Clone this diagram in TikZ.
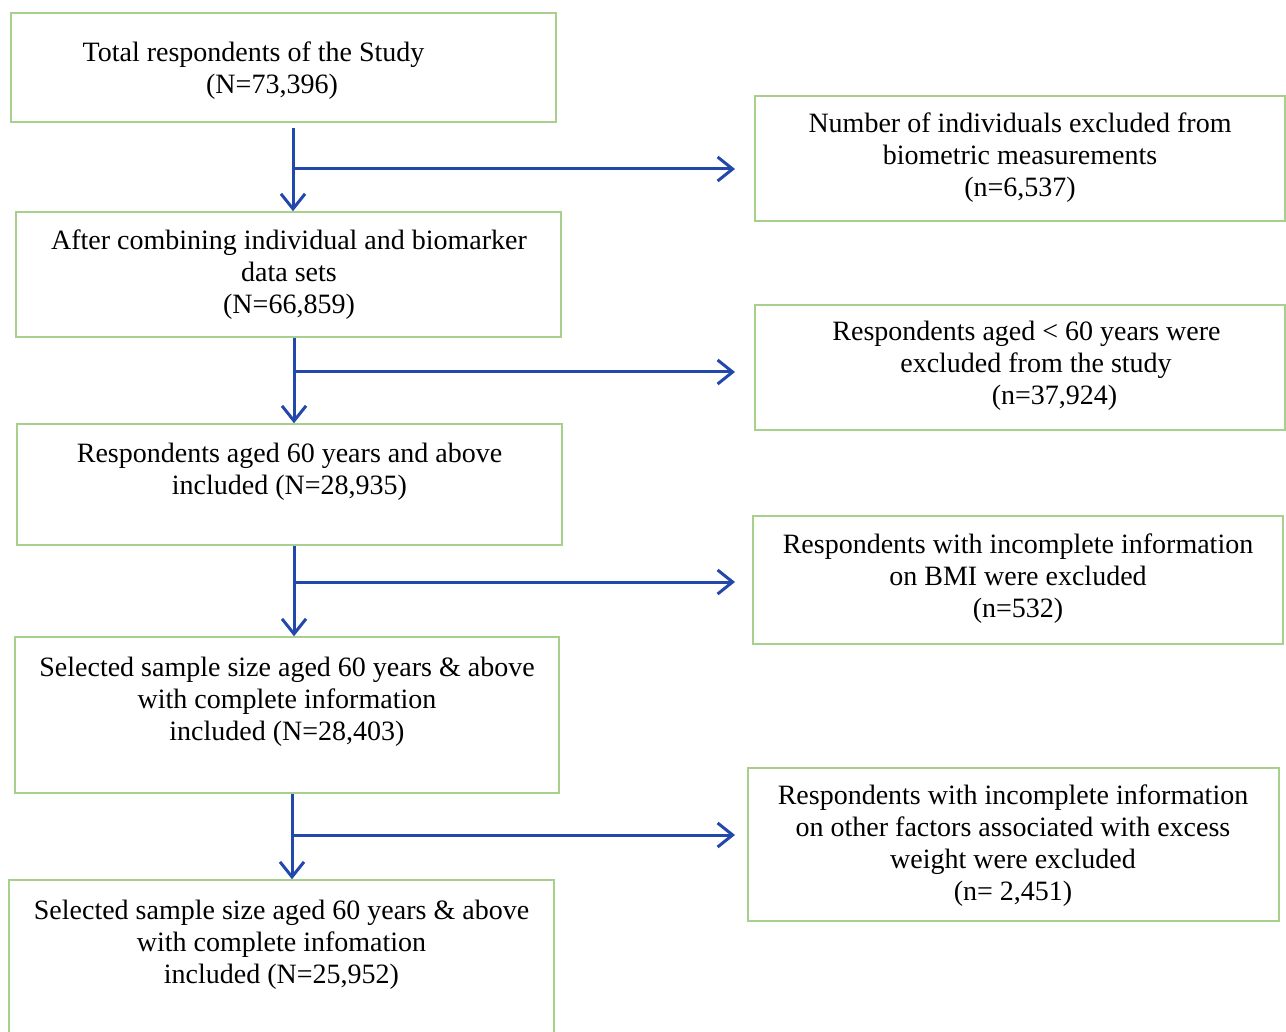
\documentclass[tikz,border=0pt]{standalone}
\usepackage{fontspec}
\setmainfont{Liberation Serif}
\usetikzlibrary{arrows.meta}
\definecolor{boxgreen}{RGB}{168,208,141}
\definecolor{arrblue}{RGB}{34,72,172}
\tikzset{
  flowbox/.style={draw=boxgreen, line width=1.5pt, inner sep=0pt, fill=none},
  txt/.style={font=\fontsize{28}{32}\selectfont, align=center, inner sep=0pt, anchor=north, text=black},
  arr/.style={draw=arrblue, line width=3pt, -{Straight Barb[length=15pt,width=24pt,line width=3pt]}}
}
\begin{document}
\begin{tikzpicture}[x=1pt,y=-1pt]
\clip (0,0) rectangle (1286,1032);
\fill[white] (0,0) rectangle (1286,1032);

% left column boxes
\node[flowbox, minimum width=545pt, minimum height=109pt] (b1) at (283.5,67.5) {};
\node[flowbox, minimum width=545pt, minimum height=125pt] (b2) at (288.5,274.5) {};
\node[flowbox, minimum width=545pt, minimum height=121pt] (b3) at (289.5,484.5) {};
\node[flowbox, minimum width=544pt, minimum height=156pt] (b4) at (287,715) {};
\node[flowbox, minimum width=545pt, minimum height=165pt] (b5) at (281.5,962.5) {};

% right column boxes
\node[flowbox, minimum width=530pt, minimum height=125pt] (r1) at (1020,158.5) {};
\node[flowbox, minimum width=530pt, minimum height=125pt] (r2) at (1020,367.5) {};
\node[flowbox, minimum width=530pt, minimum height=128pt] (r3) at (1018,580) {};
\node[flowbox, minimum width=531pt, minimum height=153pt] (r4) at (1013.5,844.5) {};

% texts
\node[txt] (t1) at (253.5,42) {Total respondents of the Study\\\hspace*{37pt}(N=73,396)};
\node[txt] (t2) at (289,230) {After combining individual and biomarker\\data sets\\(N=66,859)};
\node[txt] (t3) at (289.5,443) {Respondents aged 60 years and above\\included (N=28,935)};
\node[txt] (t4) at (287,657) {Selected sample size aged 60 years \& above\\with complete information\\included (N=28,403)};
\node[txt] (t5) at (281.5,900) {Selected sample size aged 60 years \& above\\with complete infomation\\included (N=25,952)};

\node[txt] (u1) at (1020,113) {Number of individuals excluded from\\biometric measurements\\(n=6,537)};
\node[txt] (u2) at (1026.5,321) {Respondents aged < 60 years were\\\hspace*{19pt}excluded from the study\\\hspace*{56pt}(n=37,924)};
\node[txt] (u3) at (1018,534) {Respondents with incomplete information\\on BMI were excluded\\(n=532)};
\node[txt] (u4) at (1013,785) {Respondents with incomplete information\\on other factors associated with excess\\weight were excluded\\(n= 2,451)};

% junctions and arrow ends
\coordinate (j1) at (293,169);
\coordinate (e1) at (735,169);
\coordinate (j2) at (294,372);
\coordinate (e2) at (735,372);
\coordinate (j3) at (294,582);
\coordinate (e3) at (735,582);
\coordinate (j4) at (292,835);
\coordinate (e4) at (735,835);

% connectors
\draw[arr] ([yshift=-5pt]b1.south -| j1) -- (b2.north -| j1);
\draw[arr] (j1) -- (e1);
\draw[arr] (b2.south -| j2) -- (b3.north -| j2);
\draw[arr] (j2) -- (e2);
\draw[arr] (b3.south -| j3) -- (b4.north -| j3);
\draw[arr] (j3) -- (e3);
\draw[arr] (b4.south -| j4) -- (b5.north -| j4);
\draw[arr] (j4) -- (e4);
\end{tikzpicture}
\end{document}
